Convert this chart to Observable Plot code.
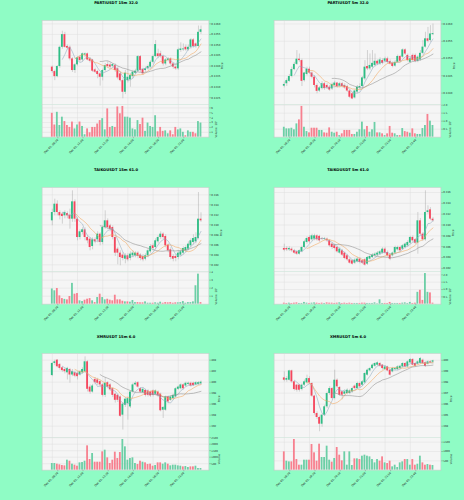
<!DOCTYPE html>
<html><head><meta charset="utf-8">
<script src="https://cdn.jsdelivr.net/npm/d3@7"></script>
<script src="https://cdn.jsdelivr.net/npm/@observablehq/plot@0.6"></script>
<style>
html,body{margin:0;padding:0;background:#8ffcc5;}
#root{position:relative;width:464px;height:500px;overflow:hidden;font-family:"DejaVu Sans",sans-serif;}
.title{position:absolute;width:232px;text-align:center;font-weight:bold;font-size:3.7px;line-height:4px;color:#000;white-space:nowrap;}
.pl{position:absolute;width:232px;}
.pl svg{overflow:visible;display:block;}
</style></head><body><div id="root"></div>
<script>
// ---------------- data ----------------
const titles = ["PARTIUSDT 15m 32.0","PARTIUSDT 5m 32.0","TAIKOUSDT 15m 61.0","TAIKOUSDT 5m 61.0","XMRUSDT 15m 6.0","XMRUSDT 5m 6.0"];
const xLabels15 = ["Dec 05, 08:30","Dec 05, 11:00","Dec 05, 13:30","Dec 05, 16:00","Dec 05, 18:30","Dec 05, 21:00"];
const xLabels5 = ["Dec 05, 18:30","Dec 05, 19:20","Dec 05, 20:10","Dec 05, 21:00","Dec 05, 21:50","Dec 05, 22:40"];

// PARTIUSDT 15m
const p1Open = [0.12395,0.12374,0.12350,0.12398,0.12489,0.12549,0.12493,0.12489,0.12434,0.12379,0.12406,0.12442,0.12429,0.12452,0.12458,0.12434,0.12429,0.12382,0.12374,0.12363,0.12347,0.12379,0.12407,0.12405,0.12399,0.12402,0.12387,0.12363,0.12331,0.12276,0.12331,0.12335,0.12350,0.12366,0.12376,0.12445,0.12384,0.12379,0.12387,0.12395,0.12418,0.12445,0.12458,0.12458,0.12445,0.12410,0.12426,0.12434,0.12410,0.12395,0.12387,0.12474,0.12477,0.12489,0.12477,0.12489,0.12524,0.12505,0.12493,0.12560];
const p1Close = [0.12374,0.12350,0.12398,0.12489,0.12549,0.12489,0.12485,0.12434,0.12379,0.12406,0.12439,0.12426,0.12458,0.12458,0.12429,0.12423,0.12376,0.12371,0.12360,0.12347,0.12379,0.12402,0.12398,0.12395,0.12407,0.12379,0.12344,0.12331,0.12276,0.12366,0.12347,0.12355,0.12371,0.12376,0.12445,0.12379,0.12363,0.12387,0.12398,0.12418,0.12445,0.12502,0.12445,0.12445,0.12410,0.12429,0.12434,0.12410,0.12395,0.12387,0.12477,0.12481,0.12481,0.12477,0.12489,0.12524,0.12493,0.12493,0.12560,0.12572];
const p1High = [0.12400,0.12380,0.12402,0.12495,0.12565,0.12560,0.12500,0.12495,0.12440,0.12412,0.12445,0.12450,0.12462,0.12462,0.12462,0.12440,0.12432,0.12390,0.12380,0.12370,0.12385,0.12412,0.12420,0.12415,0.12412,0.12410,0.12395,0.12370,0.12340,0.12380,0.12450,0.12365,0.12380,0.12385,0.12450,0.12450,0.12390,0.12395,0.12405,0.12425,0.12452,0.12521,0.12480,0.12470,0.12452,0.12436,0.12440,0.12440,0.12415,0.12400,0.12485,0.12510,0.12505,0.12500,0.12500,0.12530,0.12530,0.12510,0.12590,0.12590];
const p1Low = [0.12366,0.12331,0.12345,0.12390,0.12480,0.12485,0.12478,0.12425,0.12370,0.12365,0.12400,0.12418,0.12420,0.12440,0.12425,0.12415,0.12370,0.12365,0.12340,0.12305,0.12330,0.12372,0.12390,0.12388,0.12390,0.12370,0.12335,0.12325,0.12245,0.12265,0.12320,0.12300,0.12340,0.12360,0.12370,0.12370,0.12355,0.12370,0.12380,0.12390,0.12410,0.12440,0.12435,0.12438,0.12400,0.12402,0.12420,0.12402,0.12385,0.12380,0.12380,0.12465,0.12470,0.12470,0.12470,0.12480,0.12485,0.12485,0.12485,0.12550];
const p1Vol = [4.9e5,2.5e5,5.1e5,2.4e5,4.1e5,3.2e5,2.4e5,2.0e5,3.1e5,1.7e5,2.5e5,3.1e5,2.2e5,0.5e5,1.7e5,0.9e5,2.0e5,2.0e5,2.7e5,3.4e5,3.8e5,1.5e5,5.8e5,2.0e5,2.2e5,2.0e5,6.2e5,4.8e5,6.3e5,4.1e5,4.1e5,3.9e5,1.7e5,1.5e5,3.4e5,2.6e5,3.9e5,1.2e5,2.9e5,2.2e5,2.0e5,4.4e5,1.1e5,2.0e5,1.2e5,1.3e5,0.7e5,1.3e5,0.5e5,2.0e5,1.5e5,1.7e5,1.0e5,0.3e5,1.3e5,1.0e5,1.0e5,0.7e5,3.2e5,2.9e5];
const p1PriceTicks = [0.1225,0.1230,0.1235,0.1240,0.1245,0.1250,0.1255,0.1260];
const p1VolTicks = [1e5,2e5,3e5,4e5,5e5,6e5];

// PARTIUSDT 5m
const p2Open = [0.12420,0.12427,0.12434,0.12448,0.12468,0.12483,0.12498,0.12494,0.12436,0.12454,0.12469,0.12458,0.12446,0.12422,0.12406,0.12413,0.12427,0.12422,0.12417,0.12412,0.12422,0.12429,0.12420,0.12427,0.12422,0.12419,0.12406,0.12398,0.12386,0.12403,0.12415,0.12419,0.12441,0.12477,0.12470,0.12475,0.12480,0.12492,0.12484,0.12494,0.12492,0.12499,0.12491,0.12486,0.12478,0.12489,0.12506,0.12504,0.12525,0.12509,0.12489,0.12509,0.12509,0.12492,0.12496,0.12515,0.12533,0.12557,0.12552,0.12569];
const p2Close = [0.12425,0.12436,0.12448,0.12468,0.12483,0.12498,0.12494,0.12434,0.12458,0.12469,0.12458,0.12446,0.12422,0.12405,0.12415,0.12427,0.12413,0.12415,0.12409,0.12425,0.12429,0.12419,0.12427,0.12419,0.12415,0.12406,0.12388,0.12383,0.12406,0.12417,0.12419,0.12444,0.12475,0.12470,0.12480,0.12486,0.12492,0.12484,0.12496,0.12486,0.12499,0.12489,0.12484,0.12477,0.12489,0.12506,0.12492,0.12525,0.12513,0.12494,0.12499,0.12494,0.12492,0.12504,0.12515,0.12533,0.12557,0.12550,0.12571,0.12572];
const p2High = [0.12432,0.12441,0.12454,0.12475,0.12489,0.12523,0.12513,0.12498,0.12460,0.12475,0.12475,0.12461,0.12450,0.12427,0.12419,0.12433,0.12431,0.12427,0.12422,0.12429,0.12434,0.12431,0.12431,0.12431,0.12427,0.12423,0.12409,0.12402,0.12409,0.12422,0.12427,0.12448,0.12494,0.12523,0.12513,0.12523,0.12513,0.12496,0.12502,0.12499,0.12504,0.12504,0.12496,0.12490,0.12494,0.12510,0.12509,0.12528,0.12528,0.12513,0.12504,0.12513,0.12513,0.12508,0.12523,0.12552,0.12576,0.12590,0.12595,0.12600];
const p2Low = [0.12415,0.12419,0.12431,0.12444,0.12465,0.12480,0.12489,0.12419,0.12432,0.12450,0.12454,0.12441,0.12415,0.12398,0.12402,0.12409,0.12408,0.12411,0.12405,0.12408,0.12419,0.12415,0.12415,0.12415,0.12411,0.12402,0.12384,0.12381,0.12383,0.12398,0.12409,0.12415,0.12436,0.12465,0.12465,0.12470,0.12475,0.12480,0.12480,0.12482,0.12488,0.12484,0.12481,0.12473,0.12475,0.12486,0.12488,0.12501,0.12509,0.12490,0.12486,0.12491,0.12488,0.12488,0.12492,0.12511,0.12530,0.12545,0.12547,0.12566];
const p2Vol = [0.62e5,0.52e5,0.52e5,0.56e5,0.46e5,0.83e5,1.08e5,1.92e5,0.62e5,0.35e5,0.27e5,0.56e5,0.56e5,0.56e5,0.42e5,0.42e5,0.27e5,0.25e5,0.58e5,0.31e5,0.25e5,0.31e5,0.10e5,0.21e5,0.42e5,0.42e5,0.42e5,0.17e5,0.17e5,0.31e5,0.46e5,0.94e5,0.46e5,0.67e5,0.31e5,0.46e5,0.92e5,0.27e5,0.27e5,0.21e5,0.10e5,0.21e5,0.67e5,0.25e5,0.21e5,0.10e5,0.10e5,0.54e5,0.35e5,0.31e5,0.25e5,0.52e5,0.21e5,0.17e5,0.17e5,0.54e5,0.73e5,1.42e5,1.0e5,0.73e5];
const p2PriceTicks = [0.1240,0.1245,0.1250,0.1255,0.1260];
const p2VolTicks = [0.5e5,1e5,1.5e5,2e5];

// TAIKOUSDT 15m
const p3Open = [0.3108,0.31246,0.31413,0.31246,0.31213,0.3118,0.31226,0.31193,0.31113,0.3146,0.31113,0.30746,0.30846,0.309,0.30746,0.30713,0.30566,0.307,0.307,0.30813,0.30646,0.30946,0.3108,0.3098,0.30946,0.30746,0.30513,0.30433,0.30393,0.30313,0.3038,0.30326,0.3038,0.3038,0.30433,0.30393,0.30366,0.30313,0.3038,0.3046,0.3058,0.30546,0.3066,0.30746,0.30813,0.30766,0.30593,0.305,0.30366,0.30366,0.30346,0.30393,0.30433,0.3048,0.30513,0.3058,0.30646,0.3066,0.30726,0.31113];
const p3Close = [0.31246,0.31413,0.31246,0.3118,0.31166,0.31246,0.3118,0.31113,0.3146,0.31113,0.30746,0.3086,0.309,0.30746,0.3068,0.30546,0.307,0.3066,0.30813,0.30646,0.30946,0.3108,0.30946,0.30913,0.30746,0.30433,0.30433,0.30346,0.30326,0.3038,0.303,0.30413,0.30433,0.30433,0.30366,0.30326,0.303,0.3038,0.3048,0.30566,0.30526,0.3068,0.30746,0.30813,0.30746,0.3058,0.3048,0.30346,0.30313,0.30326,0.30433,0.3046,0.30526,0.30546,0.30613,0.3068,0.30726,0.30746,0.31113,0.3108];
const p3High = [0.31313,0.31513,0.3148,0.3128,0.3124,0.3128,0.3126,0.31313,0.3168,0.315,0.3114,0.309,0.3094,0.3094,0.3078,0.3074,0.3074,0.3074,0.3086,0.3084,0.3098,0.3128,0.3112,0.3101,0.3098,0.3078,0.3055,0.3048,0.3044,0.3042,0.3042,0.3046,0.3048,0.3046,0.3046,0.3042,0.304,0.3042,0.3052,0.306,0.3062,0.3072,0.3078,0.3086,0.3084,0.308,0.3062,0.3054,0.304,0.304,0.3048,0.305,0.3056,0.3058,0.3066,0.3072,0.308,0.3084,0.31646,0.3124];
const p3Low = [0.3098,0.3118,0.3118,0.311,0.31013,0.3112,0.3112,0.30913,0.3105,0.3105,0.3068,0.307,0.308,0.3068,0.3062,0.3048,0.305,0.3062,0.3064,0.3058,0.306,0.3091,0.309,0.3086,0.307,0.30366,0.302,0.3018,0.3028,0.3022,0.3026,0.3028,0.3034,0.3034,0.3032,0.3028,0.3026,0.3028,0.3034,0.3043,0.3048,0.305,0.3062,0.3071,0.307,0.3054,0.3044,0.303,0.3026,0.3026,0.303,0.3036,0.304,0.3044,0.3048,0.3054,0.306,0.3062,0.307,0.3105];
const p3Vol = [1.9e5,1.67e5,1.96e5,1.04e5,0.7e5,0.6e5,0.54e5,0.96e5,2.6e5,1.25e5,1.33e5,0.42e5,0.33e5,0.5e5,0.62e5,0.7e5,0.42e5,0.2e5,0.83e5,1.25e5,0.83e5,0.54e5,0.62e5,0.5e5,0.42e5,1.12e5,0.54e5,0.54e5,0.37e5,0.29e5,0.29e5,0.25e5,0.46e5,0.2e5,0.2e5,0.17e5,0.17e5,0.29e5,0.12e5,0.12e5,0.12e5,0.17e5,0.12e5,0.25e5,0.12e5,0.2e5,0.17e5,0.2e5,0.12e5,0.17e5,0.17e5,0.2e5,0.33e5,0.12e5,0.2e5,0.2e5,0.29e5,2.3e5,3.75e5,0.2e5];
const p3PriceTicks = [0.302,0.304,0.306,0.308,0.310,0.312,0.314,0.316];
const p3VolTicks = [1e5,2e5,3e5,4e5];

// TAIKOUSDT 5m
const p4Open = [0.30567,0.30567,0.30542,0.30554,0.30524,0.30505,0.30462,0.30505,0.30585,0.30678,0.3077,0.30727,0.30739,0.308,0.3079,0.30751,0.30739,0.30739,0.30708,0.30647,0.30616,0.30585,0.30481,0.30524,0.30481,0.30432,0.30358,0.30339,0.30296,0.30321,0.3037,0.30339,0.30358,0.30278,0.3037,0.30401,0.30432,0.30444,0.30462,0.30481,0.30554,0.30493,0.30444,0.30432,0.30481,0.30542,0.30585,0.30554,0.30585,0.30616,0.30665,0.3077,0.30727,0.30665,0.31077,0.30831,0.30727,0.31231,0.3128,0.31108];
const p4Close = [0.30536,0.30542,0.30567,0.30524,0.30481,0.30462,0.30524,0.30585,0.3069,0.30751,0.3069,0.308,0.308,0.30727,0.30708,0.30739,0.30751,0.30708,0.30616,0.30585,0.30567,0.30505,0.30554,0.30444,0.30382,0.30358,0.30296,0.30278,0.30352,0.3037,0.30309,0.30296,0.30259,0.30401,0.30419,0.30444,0.30462,0.30481,0.30505,0.30554,0.30481,0.30432,0.3037,0.30481,0.30585,0.30585,0.30524,0.30616,0.30647,0.30678,0.3077,0.30708,0.30665,0.31077,0.30831,0.30727,0.31231,0.31262,0.31108,0.31077];
const p4High = [0.30647,0.306,0.306,0.3058,0.3055,0.3052,0.3054,0.3061,0.3072,0.3078,0.308,0.3083,0.3083,0.3082,0.3081,0.3077,0.3077,0.3076,0.3073,0.3067,0.3064,0.3061,0.3058,0.3055,0.305,0.3046,0.3038,0.3036,0.3038,0.304,0.304,0.3036,0.3038,0.3042,0.3044,0.3047,0.3049,0.3051,0.3053,0.3058,0.3058,0.3052,0.3047,0.305,0.3061,0.3061,0.3061,0.3064,0.3067,0.3071,0.3079,0.308,0.3075,0.31231,0.3112,0.3086,0.31631,0.31354,0.3132,0.3114];
const p4Low = [0.30505,0.3051,0.3051,0.30495,0.3046,0.3044,0.30444,0.3049,0.30567,0.30647,0.3066,0.307,0.3071,0.307,0.3068,0.3071,0.3071,0.3068,0.3059,0.3055,0.3054,0.3048,0.3046,0.3042,0.3036,0.3033,0.30278,0.3026,0.3027,0.303,0.3028,0.3027,0.3024,0.30255,0.3035,0.3038,0.3041,0.3042,0.3044,0.3046,0.3046,0.3041,0.3034,0.3041,0.3046,0.3052,0.305,0.3053,0.3056,0.3059,0.3064,0.3068,0.3064,0.30462,0.308,0.307,0.307,0.312,0.3108,0.3105];
const p4Vol = [0.07e5,0.05e5,0.07e5,0.05e5,0.07e5,0.09e5,0.05e5,0.05e5,0.12e5,0.07e5,0.05e5,0.07e5,0.09e5,0.07e5,0.05e5,0.07e5,0.05e5,0.09e5,0.07e5,0.07e5,0.05e5,0.07e5,0.09e5,0.05e5,0.07e5,0.05e5,0.07e5,0.05e5,0.05e5,0.05e5,0.05e5,0.07e5,0.07e5,0.05e5,0.05e5,0.05e5,0.09e5,0.03e5,0.3e5,0.05e5,0.05e5,0.05e5,0.12e5,0.05e5,0.05e5,0.05e5,0.05e5,0.07e5,0.09e5,0.05e5,0.12e5,0.05e5,0.07e5,0.81e5,0.95e5,0.26e5,2.09e5,0.81e5,0.77e5,0.07e5];
const p4PriceTicks = [0.302,0.304,0.306,0.308,0.310,0.312,0.314,0.316];
const p4VolTicks = [0.5e5,1e5,1.5e5,2e5];

// XMRUSDT 15m
const p5Open = [401.2,403.4,404.0,403.2,402.6,402.3,401.7,402.3,401.3,401.7,401.6,401.3,401.7,401.9,403.7,399.1,398.2,400.5,400.4,400.1,399.5,397.6,399.9,399.5,398.8,397.8,397.6,397.3,394.0,395.8,396.1,395.5,398.2,399.5,399.9,398.8,398.1,398.5,398.4,398.2,398.4,397.8,398.2,397.8,394.9,394.9,397.3,396.7,397.0,397.3,398.7,398.8,399.5,399.3,399.6,399.8,399.8,399.5,399.6,399.7];
const p5Close = [403.4,403.7,402.8,402.5,402.1,401.9,402.5,401.3,401.9,401.1,401.0,401.9,402.3,403.7,398.7,398.2,399.3,399.9,399.8,399.5,397.6,399.8,399.1,398.6,397.6,396.7,396.7,393.8,396.0,396.9,397.0,398.2,399.5,399.8,399.1,398.2,398.7,397.6,397.6,397.5,397.6,398.4,397.5,394.8,395.4,397.3,396.4,397.3,397.6,398.8,399.1,399.5,398.8,399.8,399.8,399.3,399.4,399.9,399.9,400.0];
const p5High = [403.6,404.0,404.1,403.4,402.8,402.5,402.7,402.5,402.3,402.0,401.9,402.1,402.6,404.6,403.9,399.5,399.6,400.8,400.7,400.3,399.7,400.8,400.1,399.7,399.0,398.0,397.8,397.5,396.3,397.2,397.3,398.4,399.8,400.1,400.1,399.0,398.9,398.7,398.6,398.4,398.6,398.6,398.4,398.0,395.6,397.5,397.5,397.5,397.8,399.0,399.3,399.7,399.7,400.0,400.0,400.0,400.0,400.1,400.1,400.2];
const p5Low = [401.0,403.0,402.6,402.2,401.8,401.5,400.4,399.8,401.0,400.8,400.4,401.1,401.5,401.6,398.2,397.8,398.0,399.5,399.4,399.0,397.3,397.2,398.8,398.3,397.2,396.2,396.3,393.6,391.3,395.4,393.1,395.2,398.0,399.3,398.9,398.0,397.9,397.3,397.3,397.2,397.3,397.6,397.2,394.6,393.4,394.7,396.1,396.5,396.8,397.1,398.5,398.6,398.6,399.1,399.4,399.1,399.2,399.3,399.4,399.5];
const p5Vol = [513,513,462,410,359,333,769,692,462,385,308,564,590,692,1872,821,1282,615,615,615,1410,1538,949,513,769,1385,897,1359,2359,1795,769,897,949,513,436,692,615,564,436,462,308,359,564,564,462,564,462,333,385,385,333,308,256,282,205,256,256,308,128,128];
const p5PriceTicks = [392,394,396,398,400,402,404];
const p5VolTicks = [500,1000,1500,2000,2500];

// XMRUSDT 5m
const p6Open = [398.39,398.18,398.18,399.03,398.03,397.73,397.73,397.33,397.73,397.94,398.33,397.88,396.73,395.15,394.79,394.18,395.0,395.76,396.97,397.42,396.52,398.18,397.52,397.12,396.91,396.97,396.97,397.12,397.64,397.42,397.88,397.73,397.94,398.64,399.03,399.24,399.45,399.55,399.70,399.55,399.15,399.39,399.09,398.94,399.15,399.15,399.24,399.39,399.70,399.39,399.76,400.06,399.70,399.64,399.70,400.0,399.76,399.64,399.85,399.82];
const p6Close = [398.18,398.33,399.03,398.03,397.33,397.27,397.27,397.73,398.03,398.33,397.94,396.73,395.15,394.79,394.18,395.0,395.76,396.97,397.42,396.52,398.18,397.58,396.82,396.82,397.12,397.27,397.21,397.42,397.42,397.88,397.58,398.03,398.79,399.09,399.24,399.55,399.70,399.76,399.45,399.24,399.39,399.03,398.64,399.24,399.24,399.39,399.45,399.70,399.39,399.85,400.06,399.55,399.45,399.85,400.15,399.70,399.45,399.85,399.76,399.94];
const p6High = [398.94,398.5,399.09,399.1,398.1,397.8,397.8,397.85,398.2,398.64,398.5,397.95,396.8,395.3,394.9,395.1,395.9,397.1,397.6,397.5,399.09,398.3,397.6,397.2,397.25,397.4,397.35,397.55,397.75,398.0,398.0,398.15,398.9,399.2,399.35,399.65,399.8,399.85,399.8,399.6,399.5,399.45,399.15,399.35,399.35,399.5,399.55,399.8,399.8,399.95,400.15,400.15,399.8,399.95,400.25,400.1,399.85,399.95,399.95,400.0];
const p6Low = [398.03,398.0,398.1,397.9,397.2,397.1,397.1,397.2,397.6,397.85,397.8,396.6,395.0,394.6,393.49,393.9,394.9,395.6,396.8,396.4,396.4,397.4,396.7,396.4,396.8,396.85,396.85,397.0,397.3,397.35,397.45,397.6,397.85,398.55,398.95,399.15,399.35,399.45,399.35,399.1,399.05,398.95,398.55,398.85,399.05,399.05,399.15,399.3,399.3,399.3,399.7,399.5,399.35,399.55,399.6,399.6,399.35,399.55,399.7,399.75];
const p6Vol = [982,482,446,446,1643,571,268,268,536,536,536,1375,929,482,1393,679,679,1286,536,429,625,1214,804,500,982,268,982,250,607,607,571,750,804,750,714,571,393,571,482,714,393,357,482,179,268,143,393,446,571,571,268,571,268,321,750,393,268,304,268,250];
const p6PriceTicks = [394,395,396,397,398,399,400];
const p6VolTicks = [500,1000,1500];

const tickIdx = [0,10,20,30,40,50];
const maWindows = [5,10,20];

// ---------------- styling ----------------
const GREEN = "#2ebd85", RED = "#f6465d";
const VGREEN = "#6ccfa6", VRED = "#f7808f";
const MA_COLORS = ["#8fa9bf","#f2a65a","#8e8e8e"];
const BG = "#f5f5f5", GRID = "#dedede", FRAME = "#c9c9c9", WICK = "#9a9a9a";
const W = 232, ML = 41.7, MR = 23.7, ROW_H = 500/3;
const XDOM = [-4, 62.1];

const f4 = d3.format(".4f"), f3 = d3.format(".3f"), fd = d3.format("d");
const panels = [
  {title: titles[0], open:p1Open, close:p1Close, high:p1High, low:p1Low, volume:p1Vol, pTicks:p1PriceTicks, pDom:[0.12218,0.12616], pFmt:f4, pLab:13.5, vTicks:p1VolTicks, vDom:[0,6.7e5], vFmt:d=>fd(d/1e5), vLabel:"Volume  10⁵", vLab:7.5, xl:xLabels15},
  {title: titles[1], open:p2Open, close:p2Close, high:p2High, low:p2Low, volume:p2Vol, pTicks:p2PriceTicks, pDom:[0.12367,0.12610], pFmt:f4, pLab:13.5, vTicks:p2VolTicks, vDom:[0,2.04e5], vFmt:d=>d3.format(".1f")(d/1e5), vLabel:"Volume  10⁵", vLab:9, xl:xLabels5},
  {title: titles[2], open:p3Open, close:p3Close, high:p3High, low:p3Low, volume:p3Vol, pTicks:p3PriceTicks, pDom:[0.30066,0.31747], pFmt:f3, pLab:12, vTicks:p3VolTicks, vDom:[0,4.08e5], vFmt:d=>fd(d/1e5), vLabel:"Volume  10⁵", vLab:7.5, xl:xLabels15},
  {title: titles[3], open:p4Open, close:p4Close, high:p4High, low:p4Low, volume:p4Vol, pTicks:p4PriceTicks, pDom:[0.30142,0.31692], pFmt:f3, pLab:12, vTicks:p4VolTicks, vDom:[0,2.23e5], vFmt:d=>d3.format(".1f")(d/1e5), vLabel:"Volume  10⁵", vLab:9, xl:xLabels5},
  {title: titles[4], open:p5Open, close:p5Close, high:p5High, low:p5Low, volume:p5Vol, pTicks:p5PriceTicks, pDom:[389.94,405.21], pFmt:fd, pLab:10, vTicks:p5VolTicks, vDom:[0,2513], vFmt:fd, vLabel:"Volume", vLab:10.5, xl:xLabels15},
  {title: titles[5], open:p6Open, close:p6Close, high:p6High, low:p6Low, volume:p6Vol, pTicks:p6PriceTicks, pDom:[392.97,400.61], pFmt:fd, pLab:10, vTicks:p6VolTicks, vDom:[0,1750], vFmt:fd, vLabel:"Volume", vLab:10.5, xl:xLabels5}
];

const root = document.getElementById("root");
const svgStyle = {background:"transparent", fontFamily:"DejaVu Sans, sans-serif", overflow:"visible", color:"#222"};

function place(el, left, top) {
  const d = document.createElement("div");
  d.className = "pl"; d.style.left = left + "px"; d.style.top = top + "px";
  d.appendChild(el); root.appendChild(d);
}

panels.forEach((p, k) => {
  const col = k % 2, row = Math.floor(k / 2);
  const left = col * W, top = row * ROW_H;
  const data = p.open.map((o, i) => ({i, open:o, close:p.close[i], high:p.high[i], low:p.low[i], volume:p.volume[i]}));
  const up = d => d.close >= d.open;

  const t = document.createElement("div");
  t.className = "title"; t.style.left = left + "px"; t.style.top = (top + 1.4) + "px";
  t.textContent = p.title; root.appendChild(t);

  const price = Plot.plot({
    width: W, height: 84, marginTop: 0, marginBottom: 0, marginLeft: ML, marginRight: MR,
    style: svgStyle,
    x: {domain: XDOM, axis: null},
    y: {domain: p.pDom, axis: null},
    color: {type: "identity"},
    marks: [
      Plot.frame({fill: BG, stroke: "none"}),
      Plot.gridX(tickIdx, {stroke: GRID, strokeOpacity: 1, strokeWidth: 0.45}),
      Plot.gridY(p.pTicks, {stroke: GRID, strokeOpacity: 1, strokeWidth: 0.45}),
      Plot.ruleX(data, {x: "i", y1: "low", y2: "high", stroke: WICK, strokeWidth: 0.4}),
      Plot.rect(data, {x1: d => d.i - 0.36, x2: d => d.i + 0.36, y1: "open", y2: "close", fill: d => up(d) ? GREEN : RED}),
      ...maWindows.map((w, j) => Plot.lineY(data, Plot.windowY({k: w, anchor: "end", strict: true}, {x: "i", y: "close", stroke: MA_COLORS[j], strokeWidth: 0.55}))),
      Plot.axisY(p.pTicks, {anchor: "right", tickSize: 1.5, tickPadding: 1, tickFormat: p.pFmt, fontSize: 2.6, label: null, stroke: "#555", strokeWidth: 0.4}),
      Plot.text(["Price"], {frameAnchor: "right", dx: p.pLab, rotate: -90, fontSize: 2.8, fill: "#222"}),
      Plot.frame({anchor: "top", stroke: FRAME, strokeWidth: 0.5}),
      Plot.frame({anchor: "left", stroke: FRAME, strokeWidth: 0.5}),
      Plot.frame({anchor: "right", stroke: FRAME, strokeWidth: 0.5})
    ]
  });
  place(price, left, top + 20);

  const vol = Plot.plot({
    width: W, height: 32.7 + 30, marginTop: 0, marginBottom: 30, marginLeft: ML, marginRight: MR,
    style: svgStyle,
    x: {domain: XDOM, axis: null},
    y: {domain: p.vDom, axis: null},
    color: {type: "identity"},
    marks: [
      Plot.frame({fill: BG, stroke: "none"}),
      Plot.gridX(tickIdx, {stroke: GRID, strokeOpacity: 1, strokeWidth: 0.45}),
      Plot.gridY(p.vTicks, {stroke: GRID, strokeOpacity: 1, strokeWidth: 0.45}),
      Plot.rect(data, {x1: d => d.i - 0.36, x2: d => d.i + 0.36, y1: 0, y2: "volume", fill: d => up(d) ? VGREEN : VRED}),
      Plot.axisY(p.vTicks, {anchor: "right", tickSize: 1.5, tickPadding: 1, tickFormat: p.vFmt, fontSize: 2.6, label: null, stroke: "#555", strokeWidth: 0.4}),
      Plot.text([p.vLabel], {frameAnchor: "right", dx: p.vLab, rotate: -90, fontSize: 2.8, fill: "#222"}),
      Plot.axisX(tickIdx, {anchor: "bottom", tickSize: 1.5, tickPadding: 1, tickRotate: -45, dx: 5.5, fontSize: 2.7, label: null, stroke: "#555", strokeWidth: 0.4, tickFormat: d => p.xl[tickIdx.indexOf(d)]}),
      Plot.frame({anchor: "top", stroke: GRID, strokeWidth: 0.45}),
      Plot.frame({anchor: "bottom", stroke: FRAME, strokeWidth: 0.5}),
      Plot.frame({anchor: "left", stroke: FRAME, strokeWidth: 0.5}),
      Plot.frame({anchor: "right", stroke: FRAME, strokeWidth: 0.5})
    ]
  });
  place(vol, left, top + 104);
});
</script></body></html>
